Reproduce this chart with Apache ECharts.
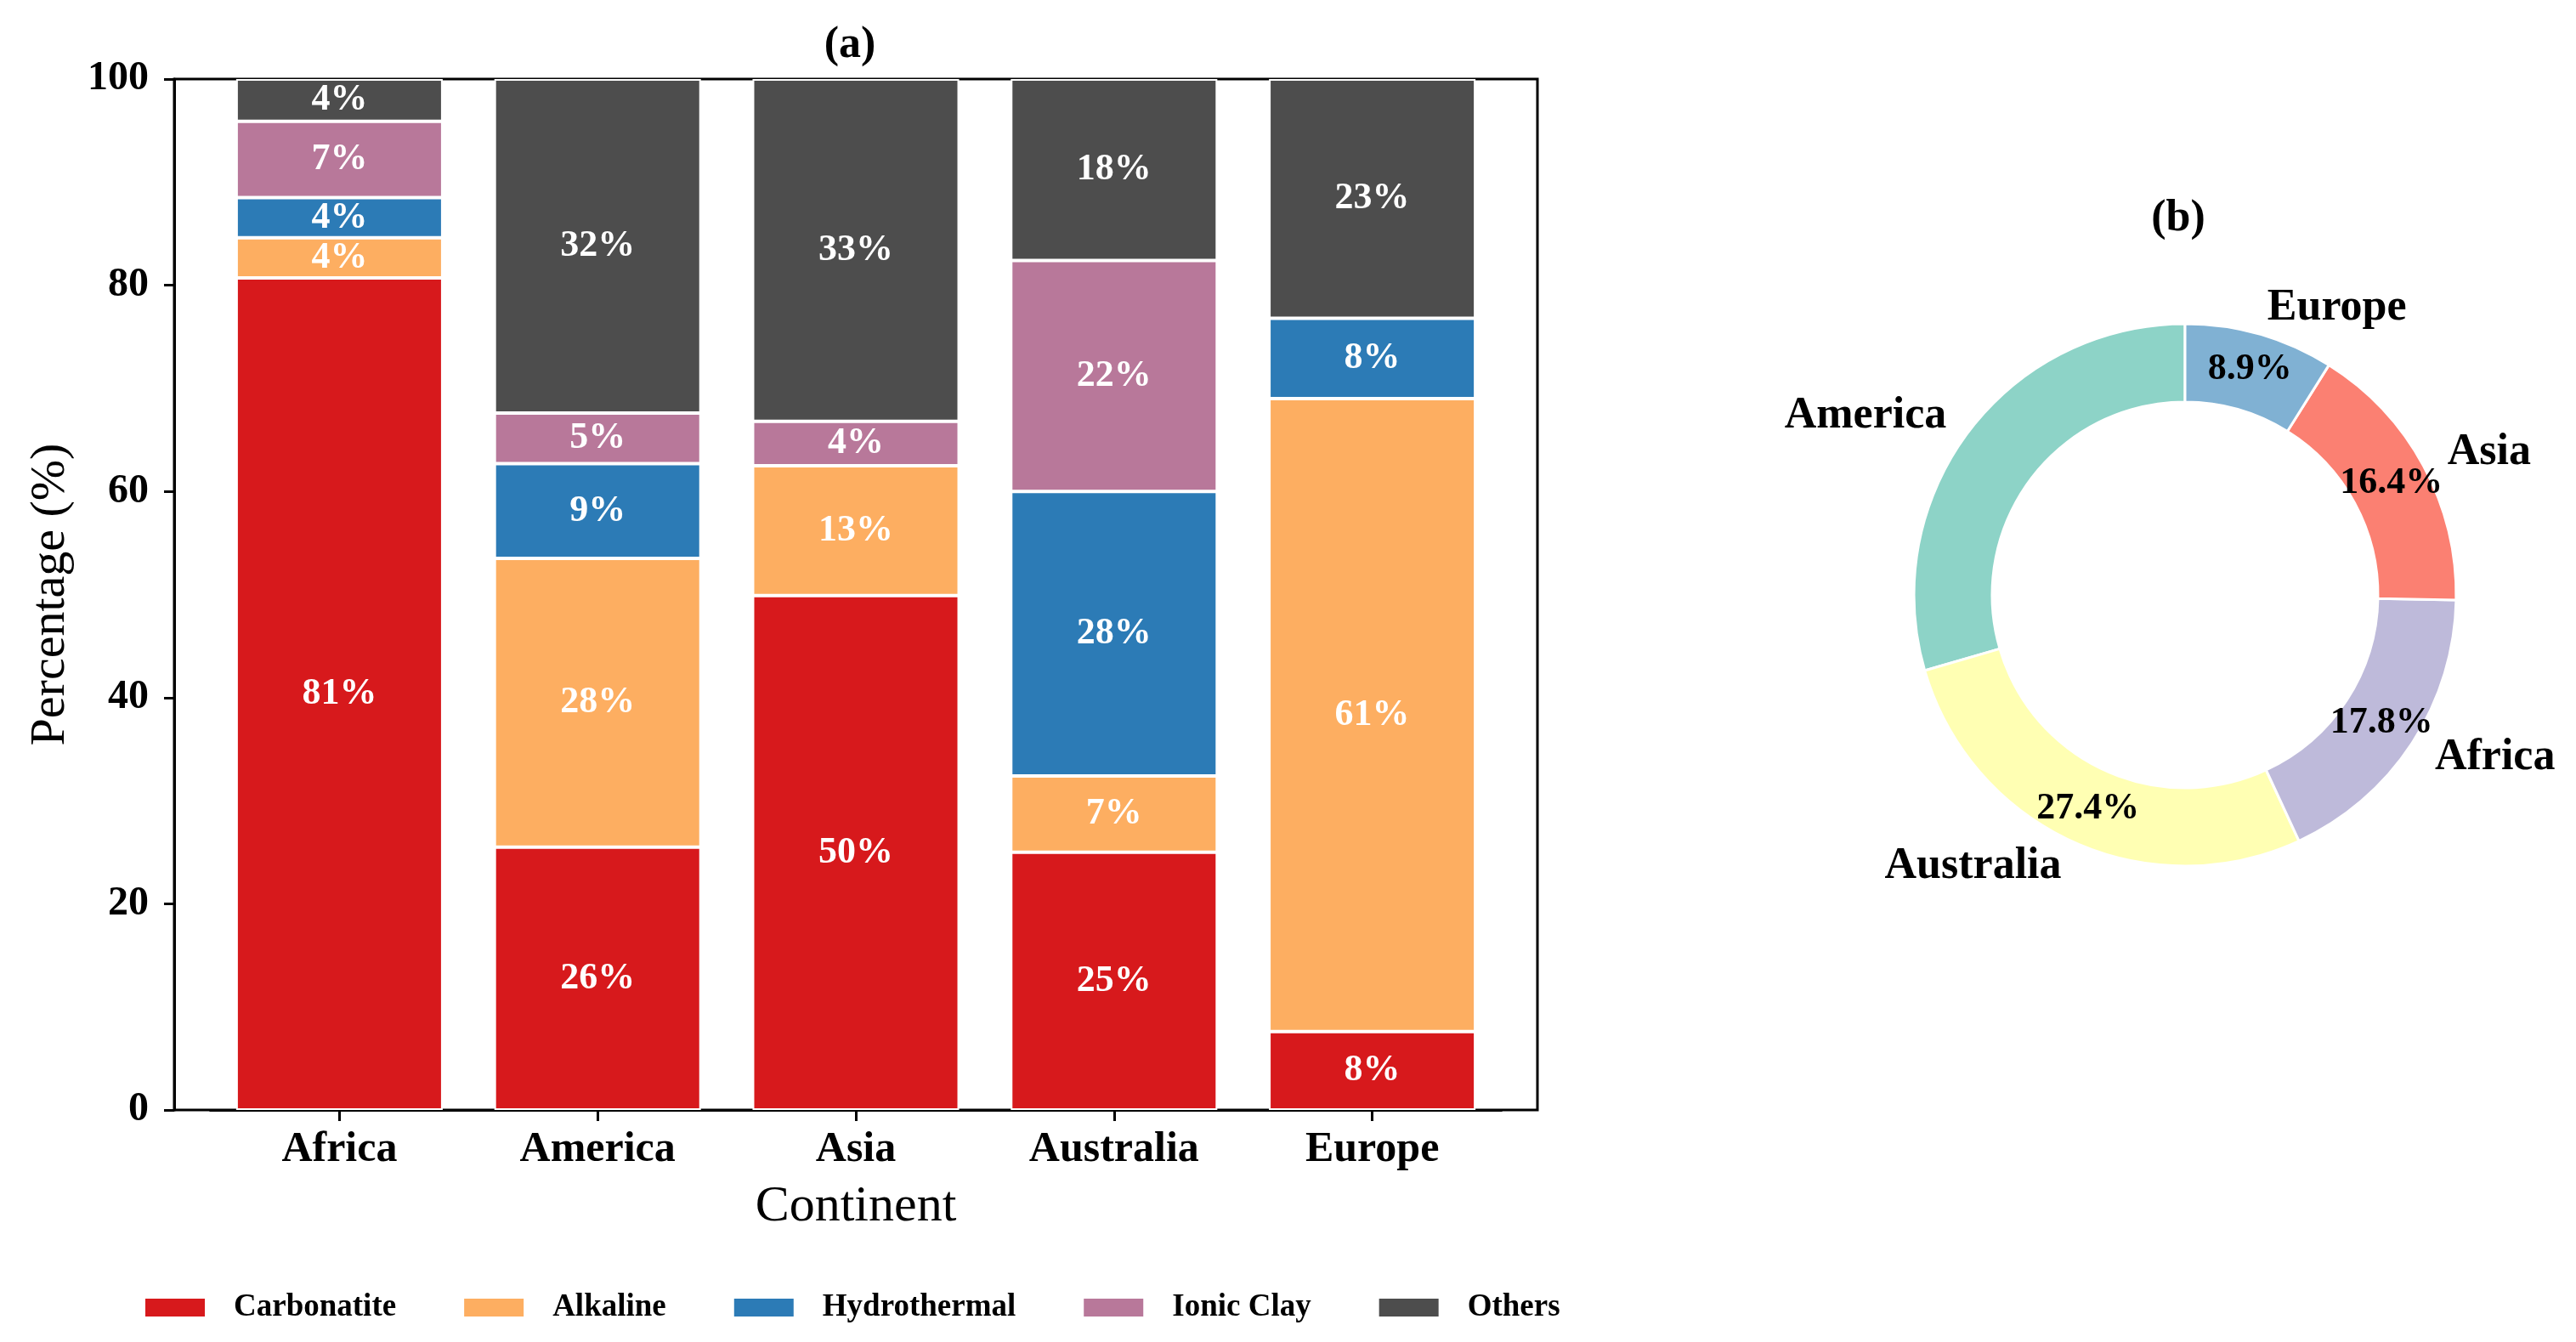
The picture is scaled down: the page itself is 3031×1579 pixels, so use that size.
<!DOCTYPE html>
<html>
<head>
<meta charset="utf-8">
<title>Deposit types by continent</title>
<script src="https://cdn.jsdelivr.net/npm/echarts@6/dist/echarts.min.js"></script>
<style>
html, body {margin:0; padding:0; background:#fff;}
#main {width:3031px; height:1579px;}
</style>
</head>
<body>
<div id="main"></div>
<script>
// (a) continents on the x axis
var continents = ['Africa', 'America', 'Asia', 'Australia', 'Europe'];
var depositTypes = ['Carbonatite', 'Alkaline', 'Hydrothermal', 'Ionic Clay', 'Others'];
// percentage of each deposit type, same order as continents
var carbonatite  = [80.7, 25.5, 49.9, 25.0, 7.6];
var alkaline     = [3.9, 28.0, 12.6, 7.4, 61.4];
var hydrothermal = [3.9, 9.2, 0, 27.6, 7.8];
var ionicClay    = [7.4, 4.9, 4.3, 22.4, 0];
var others       = [4.1, 32.4, 33.2, 17.6, 23.2];

// (b) share of each continent (drawn counter clockwise from the top)
var pieNames  = ['America', 'Australia', 'Africa', 'Asia', 'Europe'];
var pieValues = [29.5, 27.4, 17.8, 16.4, 8.9];

var typeColors = ['#d7191c', '#fdae61', '#2c7bb6', '#b8789a', '#4d4d4d'];
var pieColors  = ['#8dd3c7', '#ffffb3', '#bebada', '#fb8072', '#80b1d3'];
var font = '"Liberation Serif", "Times New Roman", serif';

// outer frame of (a), and the inset where the bars sit (matplotlib style margins)
var frameLeft = 205, frameTop = 93, frameW = 1604, frameH = 1213;
var inset = 42.5;

var stacks = [carbonatite, alkaline, hydrothermal, ionicClay, others];
var barSeries = [];
for (var k = 0; k < depositTypes.length; k++) {
    barSeries.push({
        name: depositTypes[k],
        type: 'bar',
        stack: 'total',
        xAxisIndex: 1,
        yAxisIndex: 1,
        barWidth: '80%',
        data: stacks[k],
        itemStyle: {color: typeColors[k], borderColor: '#fff', borderWidth: 2},
        label: {
            show: true,
            position: 'inside',
            color: '#fff',
            fontFamily: font,
            fontWeight: 'bold',
            fontSize: 44,
            formatter: function (p) {
                return p.value > 0 ? Math.round(p.value) + '%' : '';
            }
        }
    });
}

var pieData = pieNames.map(function (n, i) { return {name: n, value: pieValues[i]}; });

var option = {
    animation: false,
    textStyle: {fontFamily: font},
    title: [
        {text: '(a)', left: 1000, top: 28, textAlign: 'center', padding: 0,
         textStyle: {fontFamily: font, fontSize: 52, fontWeight: 'bold', color: '#000'}},
        {text: '(b)', left: 2563, top: 232, textAlign: 'center', padding: 0,
         textStyle: {fontFamily: font, fontSize: 52, fontWeight: 'bold', color: '#000'}}
    ],
    legend: {
        data: depositTypes,
        left: 164,
        top: 1515,
        icon: 'rect',
        itemWidth: 72,
        itemHeight: 23,
        itemGap: 78,
        textStyle: {fontFamily: font, fontSize: 37, fontWeight: 'bold', color: '#000', padding: [0, 0, 0, 28]}
    },
    grid: [
        {left: frameLeft, top: frameTop, width: frameW, height: frameH,
         show: true, borderColor: '#000', borderWidth: 3},
        {left: frameLeft + inset, top: frameTop, width: frameW - 2 * inset, height: frameH}
    ],
    xAxis: [
        {gridIndex: 0, type: 'value', show: false},
        {
            gridIndex: 1,
            type: 'category',
            data: continents,
            name: 'Continent',
            nameLocation: 'middle',
            nameGap: 84,
            nameTextStyle: {fontFamily: font, fontSize: 60, color: '#000'},
            axisLine: {show: true, lineStyle: {color: '#000', width: 3}},
            axisTick: {show: true, alignWithLabel: true, length: 13, lineStyle: {color: '#000', width: 3}},
            axisLabel: {margin: 22, fontFamily: font, fontSize: 50, fontWeight: 'bold', color: '#000'}
        }
    ],
    yAxis: [
        {gridIndex: 0, type: 'value', show: false},
        {
            gridIndex: 1,
            type: 'value',
            min: 0,
            max: 100,
            interval: 20,
            offset: inset,
            name: 'Percentage (%)',
            nameLocation: 'middle',
            nameGap: 116,
            nameTextStyle: {fontFamily: font, fontSize: 58, color: '#000'},
            splitLine: {show: false},
            axisLine: {show: true, lineStyle: {color: '#000', width: 3}},
            axisTick: {show: true, length: 12, lineStyle: {color: '#000', width: 3}},
            axisLabel: {margin: 30, fontFamily: font, fontSize: 48, fontWeight: 'bold', color: '#000'}
        }
    ],
    series: barSeries.concat([
        {
            // names outside the ring
            type: 'pie',
            center: [2571, 700],
            radius: [227, 319],
            startAngle: 90,
            clockwise: false,
            avoidLabelOverlap: false,
            data: pieData,
            color: pieColors,
            itemStyle: {borderColor: '#fff', borderWidth: 3},
            label: {
                show: true, position: 'outside', distanceToLabelLine: 0,
                fontFamily: font, fontSize: 52, fontWeight: 'bold', color: '#000',
                formatter: '{b}'
            },
            labelLine: {show: false, length: 32, length2: 0},
            emphasis: {disabled: true}
        },
        {
            // percentages inside the ring
            type: 'pie',
            center: [2571, 700],
            radius: [227, 319],
            startAngle: 90,
            clockwise: false,
            data: pieData,
            color: pieColors,
            itemStyle: {borderColor: '#fff', borderWidth: 3},
            label: {
                show: true, position: 'inside',
                fontFamily: font, fontSize: 44, fontWeight: 'bold', color: '#000',
                formatter: function (p) { return p.value.toFixed(1) + '%'; }
            },
            labelLine: {show: false},
            emphasis: {disabled: true}
        }
    ])
};

var myChart = echarts.init(document.getElementById('main'));
myChart.setOption(option);
</script>
</body>
</html>
